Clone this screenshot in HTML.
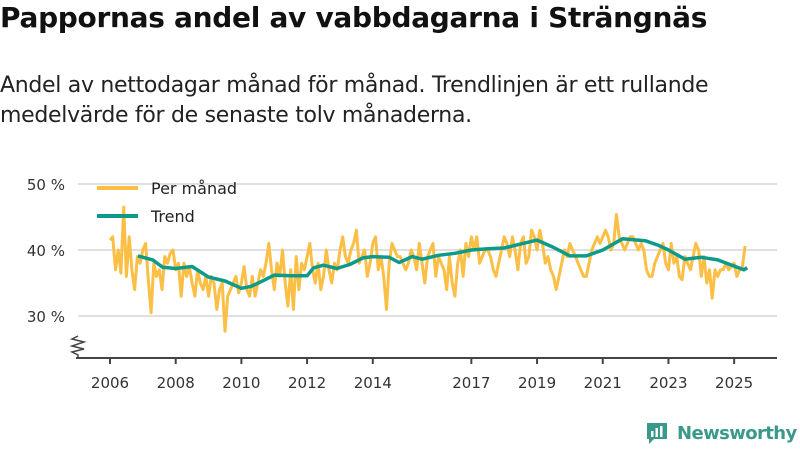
<!DOCTYPE html>
<html><head><meta charset="utf-8"><style>
body{margin:0;width:800px;height:450px;background:#fff;font-family:"Liberation Sans",sans-serif;overflow:hidden;position:relative}
h1{position:absolute;left:0;top:1px;margin:0;font-size:28px;font-weight:bold;color:#111;font-family:"DejaVu Sans","Liberation Sans",sans-serif;letter-spacing:-0.3px;white-space:nowrap}
.sub{position:absolute;left:0;top:71px;margin:0;font-size:22px;line-height:30px;color:#222;font-family:"DejaVu Sans","Liberation Sans",sans-serif;letter-spacing:-0.3px;white-space:nowrap}
</style></head><body>
<h1>Pappornas andel av vabbdagarna i Strängnäs</h1>
<p class="sub">Andel av nettodagar månad för månad. Trendlinjen är ett rullande<br>medelvärde för de senaste tolv månaderna.</p>
<svg id="chart" width="800" height="450" style="position:absolute;left:0;top:0"></svg>
<script>
const yTicks=[30,40,50];
const yTickLabels=["30 %","40 %","50 %"];
const xTicks=[2006,2008,2010,2012,2014,2017,2019,2021,2023,2025];
const startYear=2006;
const monthly=[
41.5,42,37,40,36.5,46.5,36,42,37,34,39,38,
40,41,35.5,30.5,38,36,37,34,39,38,39.5,40,
37,38,33,38,36,37.5,35,33,37,35,34,36,
33,36,35,31,34,35,27.7,33,34,35,36,33.5,
35,37.5,34,33,36,33,35,37,36,38,41,37,
34,38,36,40,35,31.5,37,31,39,34,38,37,
39,41,37,35,38,34,36,40,37,35,38,37,
40,42,39,38,40,41,43,38,39,40,36,38,
41,42,37,39,36,31,38,41,40,39,39,38,
37,38,40,39,37,41,38,35,39,40,41,36,
39,38,37,34,39,35,33,38,40,36,41,39,
42,40,42,38,39,40,40,39,37,36,38,40,
42,41,39,42,40,37,41,42,38,39,43,42,
40,43,41,38,39,37,36,34,36,38,40,39,
41,40,39,38,37,36,36,38,40,41,42,41,
42,43,42,40,41,45.4,42,41,40,41,42,42,
41,40,41,40,37,36,36,38,39,40,41,38,
37,41,38,39,36,35.5,39,38,37,39,41,40,
36,39,35,37,32.7,37,36,37,37,38,37,37.5,
38,36,37,37.5,40.6];
const trendYears=[2006.85,2007.3,2007.6,2008,2008.5,2009,2009.5,2010,2010.3,2010.6,2011,2011.5,2012,2012.2,2012.5,2012.9,2013.3,2013.7,2014,2014.5,2014.8,2015.2,2015.5,2016,2016.5,2017,2017.5,2018,2018.5,2019,2019.5,2020,2020.5,2021,2021.6,2022.3,2022.7,2023,2023.5,2024,2024.5,2025.3,2025.4];
const trendVals=[39.1,38.5,37.4,37.2,37.5,35.9,35.3,34.2,34.5,35.2,36.2,36.1,36.1,37.3,37.7,37.2,37.8,38.8,39,38.9,38.1,39,38.6,39.2,39.5,40,40.2,40.3,40.9,41.5,40.4,39.1,39.1,40,41.7,41.4,40.7,40,38.6,38.9,38.5,37.0,37.3];
const NS="http://www.w3.org/2000/svg";
const svg=document.getElementById('chart');
const X=t=>110+(t-2006)*32.85;
const Y=v=>250-(v-40)*6.6;
function mk(tag,attrs){const e=document.createElementNS(NS,tag);for(const k in attrs)e.setAttribute(k,attrs[k]);svg.appendChild(e);return e;}
yTicks.forEach((v,i)=>{
 const g=mk('line',{x1:78,x2:777,y1:Y(v),y2:Y(v),stroke:'#e0e0e0','stroke-width':2});
 
 
 const t=mk('text',{x:65,y:Y(v)+6,'text-anchor':'end','font-size':15,fill:'#333','font-family':'DejaVu Sans, Liberation Sans, sans-serif'});
 t.textContent=yTickLabels[i];
 
 
});
const ax=mk('line',{x1:76,x2:777,y1:358,y2:358,stroke:'#444','stroke-width':2});


const zz=mk('path',{d:'M78 336 L72 339 L84 342 L72 346 L84 349 L72 352 L78 355 L78 358',fill:'none',stroke:'#444','stroke-width':1.5});


xTicks.forEach(yr=>{
 const l=mk('line',{x1:X(yr),x2:X(yr),y1:358,y2:364,stroke:'#444','stroke-width':2});
 
 
 const t=mk('text',{x:X(yr),y:388,'text-anchor':'middle','font-size':15,fill:'#333','font-family':'DejaVu Sans, Liberation Sans, sans-serif'});
 t.textContent=yr;
 
 
});
const mp=monthly.map((v,i)=>X(startYear+i/12).toFixed(1)+','+Y(v).toFixed(1)).join(' ');
const ml=mk('polyline',{points:mp,fill:'none',stroke:'#fbbf45','stroke-width':3,'stroke-linejoin':'round'});


const tp=trendVals.map((v,i)=>X(trendYears[i]).toFixed(1)+','+Y(v).toFixed(1)).join(' ');
const tl=mk('polyline',{points:tp,fill:'none',stroke:'#0e9a8a','stroke-width':3.5,'stroke-linejoin':'round'});


[['Per månad','#fbbf45',188],['Trend','#0e9a8a',216]].forEach(([lab,c,y])=>{
 const l=mk('line',{x1:97,x2:138,y1:y,y2:y,stroke:c,'stroke-width':4});
 
 
 const t=mk('text',{x:151,y:y+6,'font-size':16,fill:'#222','font-family':'DejaVu Sans, Liberation Sans, sans-serif'});
 t.textContent=lab;
 
 
});
</script>
<div style="position:absolute;left:645px;top:420px;height:26px;display:flex;align-items:center">
<svg width="24" height="24" viewBox="0 0 24 24"><path d="M2 2h20v16H9l-5 5v-5H2z" fill="#3a9a8a"/><rect x="6" y="10" width="2.5" height="6" fill="#fff"/><rect x="10.5" y="7" width="2.5" height="9" fill="#fff"/><rect x="15" y="5" width="2.5" height="11" fill="#fff"/></svg>
<span style="margin-left:8px;font-size:18px;font-weight:bold;color:#3a9a8a;font-family:'DejaVu Sans','Liberation Sans',sans-serif;letter-spacing:-0.6px">Newsworthy</span>
</div>
</body></html>
